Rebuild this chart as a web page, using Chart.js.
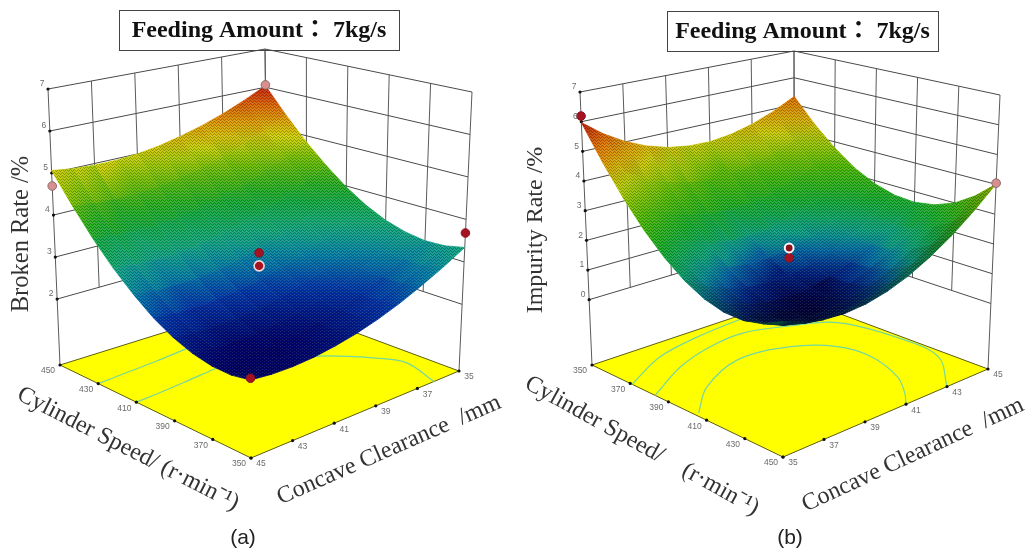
<!DOCTYPE html>
<html>
<head>
<meta charset="utf-8">
<script src="https://cdn.jsdelivr.net/npm/chart.js@4"></script>
<style>
html,body{margin:0;padding:0;background:#fff;width:1025px;height:554px;overflow:hidden}
canvas{position:absolute;top:0}
#a{left:0}
#b{left:512px}
</style>
</head>
<body>
<canvas id="a" width="512" height="554"></canvas>
<canvas id="b" width="513" height="554"></canvas>
<script>
// ---- Values ----
const speedValues = [350,360,370,380,390,400,410,420,430,440,450];
const clearanceValues = [35,36,37,38,39,40,41,42,43,44,45];
const speedTicks = [350,370,390,410,430,450];
const clearanceTicks = [35,37,39,41,43,45];
const brokenLevels = [2,3,4,5,6,7];
const impurityLevels = [0,1,2,3,4,5,6,7];

// rows: cylinder speed, columns: concave clearance
const brokenRate = [
 [3.34,3.05,2.80,2.58,2.40,2.26,2.16,2.09,2.06,2.07,2.12],
 [3.24,2.95,2.70,2.49,2.31,2.17,2.07,2.01,1.98,1.99,2.04],
 [3.22,2.94,2.69,2.47,2.30,2.17,2.07,2.01,1.98,2.00,2.05],
 [3.29,3.00,2.75,2.55,2.38,2.24,2.15,2.09,2.07,2.08,2.14],
 [3.43,3.15,2.91,2.70,2.53,2.40,2.31,2.25,2.23,2.25,2.31],
 [3.66,3.38,3.14,2.94,2.77,2.64,2.55,2.50,2.48,2.50,2.56],
 [3.97,3.69,3.46,3.25,3.09,2.96,2.87,2.82,2.81,2.83,2.90],
 [4.37,4.09,3.85,3.65,3.49,3.37,3.28,3.23,3.22,3.25,3.31],
 [4.84,4.57,4.33,4.14,3.98,3.86,3.77,3.73,3.72,3.75,3.81],
 [5.40,5.13,4.90,4.70,4.55,4.43,4.35,4.30,4.30,4.33,4.40],
 [6.04,5.77,5.54,5.35,5.20,5.08,5.00,4.96,4.96,4.99,5.06]
];
const impurityRate = [
 [5.97,5.44,5.02,4.70,4.48,4.36,4.34,4.43,4.62,4.91,5.30],
 [4.85,4.35,3.96,3.66,3.47,3.38,3.40,3.51,3.72,4.04,4.46],
 [3.89,3.42,3.05,2.79,2.63,2.56,2.60,2.74,2.99,3.33,3.78],
 [3.09,2.65,2.31,2.07,1.94,1.90,1.97,2.14,2.41,2.78,3.25],
 [2.45,2.03,1.72,1.51,1.40,1.40,1.49,1.69,1.99,2.39,2.89],
 [1.96,1.58,1.29,1.11,1.03,1.05,1.17,1.40,1.72,2.15,2.68],
 [1.63,1.28,1.02,0.86,0.81,0.86,1.01,1.26,1.62,2.07,2.63],
 [1.46,1.13,0.90,0.78,0.75,0.83,1.01,1.29,1.67,2.15,2.74],
 [1.45,1.15,0.95,0.85,0.85,0.96,1.16,1.47,1.88,2.39,3.00],
 [1.59,1.32,1.15,1.08,1.11,1.24,1.47,1.81,2.25,2.79,3.43],
 [1.90,1.65,1.50,1.46,1.52,1.68,1.94,2.31,2.77,3.34,4.01]
];
// design points: [speed, clearance, rate]
const brokenPoints = [[450,45,4.69],[450,35,6.06],[350,35,3.68],[350,45,2.16],[400,40,3.29],[400,40,2.98]];
const impurityPoints = [[350,35,6.19],[450,45,4.04],[400,40,1.63],[400,40,1.96]];
// floor contours: [speed, clearance]
const brokenContours = [
 [[430,45],[431,43.5],[432,42],[433.5,40.6],[436,38]],
 [[410,45],[411,43.5],[412.5,42],[413.5,41],[415,39]],
 [[350,36.2],[370,35.7],[382,36.2],[397,37.4],[410,39.5]]
];
const impurityContours = [
 [[371,35],[359.8,37.4],[355,39.7],[352,43]],
 [[383,35],[370.8,37.4],[364.6,39.4],[362.9,41.2],[369.3,42.9],[378.9,44.35],[404.6,44.85],[428.6,44.6],[450,43]],
 [[403.7,35.2],[389.8,36.9],[379.5,39.4],[383.7,41.6],[395.4,42.8],[410.8,43],[430.8,42.4],[443,41.6],[450,41]]
];
const brokenColours = [[2.0,[0,0,105]],[2.5,[0,55,175]],[2.9,[0,130,175]],[3.3,[20,175,135]],[3.9,[20,175,50]],[4.5,[110,195,0]],[5.0,[215,215,0]],[5.5,[235,135,0]],[6.04,[205,30,10]]];
const impurityColours = [[0.75,[0,0,70]],[1.1,[0,40,140]],[1.45,[0,110,170]],[1.8,[10,165,140]],[2.5,[20,175,50]],[3.3,[80,190,0]],[4.3,[205,210,0]],[5.1,[235,135,0]],[5.97,[190,30,10]]];

// ---- Panel geometry ----
const panelA = {
  id:'a', xMin:0, xMax:512, z:brokenRate, levels:brokenLevels, points:brokenPoints, contours:brokenContours, colours:brokenColours,
  shadeFloor:0.55, shadeArea:300,
  pointColours:['#d98f8f','#d98f8f','#a51222','#a51222','#a51222','#a51222'],
  pointBorders:['#8a6a6a','#8a6a6a','#8a1020','#8a1020','#8a1020','#f0dada'],
  pointSizes:[4.3,4.3,4.3,4.3,4.3,5],
  pointWidths:[1,1,1,1,1,1.6],
  speedL:450, speedF:350, clrL:45, clrB:35, z0:0.43, zTop:7,
  floor:{L:[60,365],F:[251,458],R:[459,371],B:[268,300]},
  top:{L:[48,89],F:[249,155],R:[472,92],B:[265,49]},
  title:{box:[119,10,280,40], text:'Feeding Amount： 7kg/s', cx:259, cy:31},
  tag:{text:'(a)', x:243, y:538},
  yLabel:{text:'Broken Rate /%', x:22, y:234, size:24.5},
  speedLabel:{text:'Cylinder Speed/ (r·min⁻¹)', x:128, y:449, rot:27},
  clrLabel:{text:'Concave Clearance  /mm', x:389, y:450, rot:-23.7}
};
const panelB = {
  id:'b', xMin:512, xMax:1025, z:impurityRate, levels:impurityLevels, points:impurityPoints, contours:impurityContours, colours:impurityColours,
  shadeFloor:0.25, shadeArea:380,
  pointColours:['#a51222','#d98f8f','#a51222','#8c1020'],
  pointBorders:['#8a1020','#8a6a6a','#8a1020','#ffffff'],
  pointSizes:[4.3,4.3,4.3,4.4],
  pointWidths:[1,1,1,2],
  speedL:350, speedF:450, clrL:35, clrB:45, z0:-2.2, zTop:7,
  floor:{L:[592,365],F:[783,457],R:[988,369],B:[795,297]},
  top:{L:[580,92],F:[781,153],R:[1000,95],B:[794,51]},
  title:{box:[667,11,271,40], text:'Feeding Amount： 7kg/s', cx:802.5, cy:31.5},
  tag:{text:'(b)', x:790, y:538},
  yLabel:{text:'Impurity Rate /%', x:536, y:230, size:24},
  speedLabel:{text:'Cylinder Speed/    (r·min⁻¹)', x:642, y:446, rot:29},
  clrLabel:{text:'Concave Clearance  /mm', x:913, y:455, rot:-25}
};

function projector(p){
  return function(speed, clr, z){
    const a=(speed-p.speedL)/(p.speedF-p.speedL), b=(clr-p.clrL)/(p.clrB-p.clrL), w=(z-p.z0)/(p.zTop-p.z0);
    const c=k=>{const f=p.floor[k],t=p.top[k];return [f[0]+w*(t[0]-f[0]),f[1]+w*(t[1]-f[1])];};
    const L=c('L'),F=c('F'),R=c('R'),B=c('B');
    const wt=(i)=>(1-a)*(1-b)*L[i]+a*(1-b)*F[i]+a*b*R[i]+(1-a)*b*B[i];
    return {x:wt(0),y:wt(1)};
  };
}
function colourAt(stops,z,k){
  let c=stops[stops.length-1][1];
  if(z<=stops[0][0]) c=stops[0][1];
  else for(let i=1;i<stops.length;i++){
    if(z<=stops[i][0]){
      const t=(z-stops[i-1][0])/(stops[i][0]-stops[i-1][0]);
      const A=stops[i-1][1],B=stops[i][1];
      c=[A[0]+t*(B[0]-A[0]),A[1]+t*(B[1]-A[1]),A[2]+t*(B[2]-A[2])];
      break;
    }
  }
  return 'rgb('+Math.round(c[0]*k)+','+Math.round(c[1]*k)+','+Math.round(c[2]*k)+')';
}
function meshPattern(ctx){
  const t=document.createElement('canvas');t.width=4;t.height=3;
  const g=t.getContext('2d');
  g.fillStyle='rgba(0,0,0,0.28)';
  g.fillRect(0,0,1,1);g.fillRect(2,1,1,1);g.fillRect(1,2,1,1);g.fillRect(3,2,1,1);
  g.fillStyle='rgba(255,255,255,0.10)';
  g.fillRect(2,0,1,1);g.fillRect(0,1,1,1);
  return ctx.createPattern(t,'repeat');
}
function polyline(points,opts){
  return Object.assign({data:points,showLine:true,pointRadius:0,borderWidth:1,borderColor:'#555',fill:false,clip:false,tension:0},opts);
}
function buildDatasets(p,ctx){
  const P=projector(p), ds=[];
  const sL=p.speedL,sF=p.speedF,cL=p.clrL,cB=p.clrB,zLow=p.levels[0];
  // walls
  p.levels.forEach(z=>ds.push(polyline([P(sL,cL,z),P(sL,cB,z),P(sF,cB,z)],{order:6000,borderColor:'#4a4a4a'})));
  clearanceTicks.forEach(c=>{
    const edge=(c===cL||c===cB);
    ds.push(polyline([P(sL,c,edge?p.z0:zLow),P(sL,c,p.zTop)],{order:6000,borderColor:'#5a5a5a'}));
  });
  speedTicks.forEach(s=>{
    const edge=(s===sF);
    ds.push(polyline([P(s,cB,edge?p.z0:zLow),P(s,cB,p.zTop)],{order:6000,borderColor:'#5a5a5a'}));
  });
  // floor
  const fl=[P(sL,cL,p.z0),P(sF,cL,p.z0),P(sF,cB,p.z0),P(sL,cB,p.z0),P(sL,cL,p.z0)];
  ds.push(polyline(fl,{order:5000,backgroundColor:'#ffff00',borderColor:'#5c5c10',fill:'shape'}));
  p.contours.forEach(c=>ds.push(polyline(c.map(q=>P(q[0],q[1],p.z0)),{order:4000,borderColor:'#74d6a0',borderWidth:1.2,tension:0.35})));
  // tick dots
  const dots=[];
  speedTicks.forEach(s=>dots.push(P(s,cL,p.z0)));
  clearanceTicks.forEach(c=>dots.push(P(sF,c,p.z0)));
  p.levels.forEach(z=>dots.push(P(sL,cL,z)));
  ds.push({data:dots,showLine:false,pointRadius:1.6,pointBackgroundColor:'#111',pointBorderWidth:0,order:3900,clip:false});
  // surface cells: brightness follows the on-screen size of each cell, shared smoothly at its corners
  const n=speedValues.length, m=clearanceValues.length, cells=[];
  const at=(i,j)=>P(speedValues[i],clearanceValues[j],p.z[i][j]);
  const areaOf=(i,j)=>{
    const v=[at(i,j),at(i+1,j),at(i+1,j+1),at(i,j+1)];let s=0;
    for(let k=0;k<4;k++){const A=v[k],B=v[(k+1)%4];s+=A.x*B.y-B.x*A.y;}
    return Math.abs(s)/2;
  };
  const shadeAt=(i,j)=>{
    let s=0,c=0;
    for(const a of [i-1,i])for(const b of [j-1,j]) if(a>=0&&b>=0&&a<n-1&&b<m-1){s+=areaOf(a,b);c++;}
    return p.shadeFloor+(1-p.shadeFloor)*Math.min(1,(s/c)/p.shadeArea);
  };
  for(let i=0;i<n-1;i++)for(let j=0;j<m-1;j++){
    const c=[[i,j],[i+1,j],[i+1,j+1],[i,j+1]];
    const far=Math.abs(speedValues[i]+5-sL)/100+Math.abs(clearanceValues[j]+0.5-cB)/10;
    cells.push({c,far});
  }
  cells.sort((u,v)=>u.far-v.far);
  cells.forEach((cell,idx)=>{
    const verts=cell.c.map(q=>Object.assign(at(q[0],q[1]),{z:p.z[q[0]][q[1]],k:shadeAt(q[0],q[1])}));
    let lo=verts[0],hi=verts[0];
    verts.forEach(v=>{if(v.z<lo.z)lo=v;if(v.z>hi.z)hi=v;});
    const g=ctx.createLinearGradient(lo.x-p.xMin,lo.y,hi.x-p.xMin,hi.y);
    g.addColorStop(0,colourAt(p.colours,lo.z,lo.k));
    g.addColorStop(0.5,colourAt(p.colours,(lo.z+hi.z)/2,(lo.k+hi.k)/2));
    g.addColorStop(1,colourAt(p.colours,hi.z,hi.k));
    const pts=verts.map(v=>({x:v.x,y:v.y}));pts.push(pts[0]);
    ds.push(polyline(pts,{order:3000-idx,fill:'shape',backgroundColor:g,borderColor:g,borderWidth:0.8}));
  });
  // mesh texture laid over the whole surface
  const rim=[];
  for(let j=0;j<m;j++)rim.push([0,j]);
  for(let i=1;i<n;i++)rim.push([i,m-1]);
  for(let j=m-2;j>=0;j--)rim.push([n-1,j]);
  for(let i=n-2;i>=0;i--)rim.push([i,0]);
  ds.push(polyline(rim.map(q=>at(q[0],q[1])),{order:1000,fill:'shape',backgroundColor:meshPattern(ctx),borderWidth:0,borderColor:'rgba(0,0,0,0)'}));
  // design points
  ds.push({data:p.points.map(q=>P(q[0],q[1],q[2])),showLine:false,pointRadius:p.pointSizes,pointBorderWidth:p.pointWidths,
    pointBackgroundColor:p.pointColours,pointBorderColor:p.pointBorders,order:0,clip:false});
  return ds;
}
function textPlugin(p){
  const P=projector(p);
  return {id:'texts'+p.id,afterDraw(chart){
    const c=chart.ctx,X=chart.scales.x,Y=chart.scales.y;
    const px=(x)=>X.getPixelForValue(x),py=(y)=>Y.getPixelForValue(y);
    c.save();
    c.font='8.5px "Liberation Sans", Arial, sans-serif';c.fillStyle='#6a6a6a';c.textAlign='center';c.textBaseline='middle';
    speedTicks.forEach(s=>{const q=P(s,p.clrL,p.z0);c.fillText(String(s),px(q.x-12),py(q.y+6));});
    clearanceTicks.forEach(v=>{const q=P(p.speedF,v,p.z0);c.fillText(String(v),px(q.x+10),py(q.y+6));});
    p.levels.forEach(z=>{const q=P(p.speedL,p.clrL,z);c.fillText(String(z),px(q.x-6),py(q.y-5));});
    const b=p.title.box;
    c.strokeStyle='#444';c.lineWidth=1;c.strokeRect(px(b[0])+0.5,py(b[1])+0.5,b[2],b[3]);
    c.font='bold 24px "Liberation Serif", "Noto Sans CJK TC", serif';c.fillStyle='#111';
    c.fillText(p.title.text,px(p.title.cx),py(p.title.cy));
    c.fillStyle='#333';
    const rotated=(l,deg,size)=>{c.save();c.translate(px(l.x),py(l.y));c.rotate(deg*Math.PI/180);c.font=size+'px "Liberation Serif", serif';c.fillText(l.text,0,0);c.restore();};
    rotated(p.yLabel,-90,p.yLabel.size);
    rotated(p.speedLabel,p.speedLabel.rot,24);
    rotated(p.clrLabel,p.clrLabel.rot,24);
    c.font='21px "Liberation Sans", Arial, sans-serif';c.fillStyle='#222';
    c.fillText(p.tag.text,px(p.tag.x),py(p.tag.y));
    c.restore();
  }};
}
function draw(p){
  const el=document.getElementById(p.id),ctx=el.getContext('2d');
  return new Chart(ctx,{
    type:'scatter',
    data:{datasets:buildDatasets(p,ctx)},
    options:{
      responsive:false,animation:false,events:[],
      layout:{padding:0,autoPadding:false},
      plugins:{legend:{display:false},tooltip:{enabled:false},title:{display:false}},
      scales:{
        x:{type:'linear',display:false,min:p.xMin,max:p.xMax},
        y:{type:'linear',display:false,min:0,max:554,reverse:true}
      }
    },
    plugins:[textPlugin(p)]
  });
}
draw(panelA);
draw(panelB);
</script>
</body>
</html>
